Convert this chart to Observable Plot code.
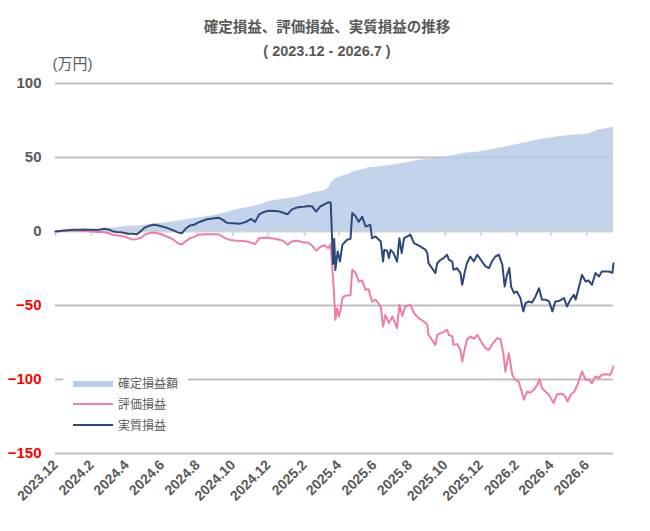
<!DOCTYPE html>
<html><head><meta charset="utf-8">
<script src="https://cdn.jsdelivr.net/npm/d3@7"></script>
<script src="https://cdn.jsdelivr.net/npm/@observablehq/plot@0.6"></script>
<style>
body{margin:0;background:#fff;font-family:"Liberation Sans","Noto Sans CJK JP",sans-serif;}
#wrap{position:relative;width:650px;height:531px;overflow:hidden;background:#fff;}
#head{position:relative;height:54px;}
.t{position:absolute;left:0;width:654px;text-align:center;color:#595959;font-weight:bold;font-size:14.5px;line-height:20px;white-space:nowrap;}
#legend{position:absolute;left:63px;top:370px;width:125px;height:64px;background:#fff;}
.sw{position:absolute;left:10px;width:40px;}
.lt{position:absolute;left:55px;font-size:12px;line-height:14px;color:#595959;white-space:nowrap;font-family:"Noto Sans CJK JP",sans-serif;}
svg{display:block;}
</style>
</head><body>
<div id="wrap">
  <div id="head">
    <div class="t" style="top:17px">確定損益、評価損益、実質損益の推移</div>
    <div class="t" style="top:41px">( 2023.12 - 2026.7 )</div>
  </div>
  <div id="chart"></div>
  <div id="legend"></div>
</div>
<script>
const startDate = "2023-12-01";   // day 0
const stepDays = 7;               // weekly samples for the early part / realized
const seriesNames = ["確定損益額", "評価損益", "実質損益"];
const seriesColors = ["#bccde9", "#f07da5", "#2c487d"];

// 確定損益額 (realized, 万円), weekly from day 0
const realized = [
 0,0,0,0.1,0.2,0.3,0.4,0.5,0.6,0.8,
 1.0,1.3,1.6,2.0,2.4,2.6,2.8,3.2,3.5,3.8,
 3.8,3.9,4.3,4.8,5.2,5.5,5.6,5.8,6.2,6.6,
 7.0,7.5,8.0,8.5,8.8,9.2,9.5,10.0,10.3,10.8,
 11.5,12.2,12.8,13.6,14.4,15.0,15.6,16.0,16.5,17.2,
 17.8,18.8,20.0,20.6,21.0,21.5,22.0,22.3,22.6,23.0,
 23.8,24.5,25.0,25.8,26.5,27.0,27.5,29.3,34.0,36.0,
 37,38,38.5,40,40.8,41.5,42.3,43,43.3,43.5,
 44,44.3,44.6,45,45.5,46,46.5,47,47.5,48,
 48.3,48.6,48.8,49,49.5,50,50.5,51,51.5,52,
 52.5,53,53.2,53.5,53.8,54.2,54.7,55.2,55.7,56.2,
 56.8,57.4,58,58.6,59.2,59.8,60.3,61,61.6,62.2,
 62.6,63,63.3,63.8,64.2,64.5,64.7,65,65.2,65.4,
 65.5,66,67,68.4,69,69.5,70,70.5];

// 評価損益 (unrealized, 万円): weekly until day 469, then by day offset
const unrealizedWeekly = [
 0,0.2,0.3,0.5,0.5,0.6,0.5,0.4,0.1,0,
 -0.3,-0.2,-0.5,-1.0,-2.2,-2.6,-2.9,-3.5,-4.6,-5.5,
 -5.0,-4.2,-2.0,-1.2,-0.7,-1.2,-2.0,-3.0,-4.2,-5.6,
 -7.9,-8.8,-6.5,-4.6,-3.8,-2.2,-2.0,-1.8,-1.8,-1.9,
 -2.0,-3.5,-5.0,-5.8,-6.1,-6.3,-6.4,-6.8,-7.5,-8.5,
 -4.5,-4.2,-4.1,-4.5,-5.0,-5.6,-6.5,-9.0,-6.8,-6.3,
 -6.6,-7.5,-7.5,-9.5,-13.0,-10.5,-9.3,-11.3];
const unrealizedLateDays = [
 473,476,478,481,484,487,490,493,498,507,510,516,521,527,533,538,544,550,559,563,
 567,573,579,587,591,596,601,610,616,624,633,639,641,647,653,656,662,667,673,676,
 682,684,690,696,699,703,707,713,719,725,733,739,745,750,759,765,770,773,779,785,
 790,796,802,805,811,816,822,828,832,836,842,848,856,862,871,876,880,886,892,898,
 905,911,916,922,928,934,939,945,954,959];
const unrealizedLate = [
 -8.5,-25.9,-37.2,-59.7,-51.8,-57.4,-52.9,-45,-43.4,-43,-25.9,-28.1,-33.8,-33,-39.4,-39,-47.3,-46.1,-50.7,-64.2,
 -56.3,-61.9,-57.4,-65.3,-49.5,-57,-50.7,-49.5,-55.2,-58.5,-60.8,-63,-69.8,-73.2,-76.6,-69.8,-68.7,-68,-66.4,-70,
 -70.9,-76.6,-76,-79.9,-87.8,-80,-73.2,-70.9,-72.5,-69.8,-75.4,-78.8,-79.9,-76.5,-72,-73,-83.3,-94.6,-82.2,-96.8,
 -100.2,-101.4,-109.2,-113.7,-108.1,-109,-107,-103.6,-99.7,-105.8,-108.1,-110.3,-115.9,-110,-109.7,-111.5,-114.9,-110,-108.1,-102.4,
 -94.6,-100.2,-100,-102.4,-98,-99,-96.8,-96.5,-96.8,-91.2];

// 実質損益 (net, 万円): weekly until day 469, then by day offset
const netWeekly = [
 0,0.3,0.6,0.9,1.1,1.2,1.1,1.3,1.2,1.1,
 1.0,1.3,1.8,1.4,0.2,-0.3,-0.5,-1.0,-1.5,-1.6,
 -1.8,0.3,2.8,3.8,4.5,4.2,3.6,2.8,1.8,0.7,
 -0.6,-1.2,2.0,4.0,4.5,6.0,7.1,8.1,8.6,9.0,
 9.3,8.0,6.0,5.5,5.6,5.3,5.8,6.8,8.5,6.5,
 11.5,13.0,13.8,14.0,13.8,13.5,12.5,11.7,14.8,16.0,
 16.5,16.8,17.2,17.0,13.5,16.9,18.3,19.7];
const netLateDays = [
 473,477,479,481,485,489,493,501,507,510,516,521,527,533,541,544,550,559,563,565,
 570,573,576,581,587,591,595,599,604,610,616,622,627,636,639,641,647,653,656,662,
 667,673,676,682,684,690,696,699,703,707,713,719,725,733,739,745,750,756,762,768,
 772,776,780,783,788,793,799,804,808,813,819,825,831,836,842,848,854,859,865,874,
 879,885,891,894,899,905,911,916,922,928,934,939,945,951,957,959];
const netLate = [
 19.5,-22,-5,-26,-13.5,-20.3,-9,-5.6,-5,12.5,10.1,6.5,10,3.4,4.5,-4.5,-3.4,-6.8,-20.3,-12.4,
 -13,-18,-12.4,-14.6,-20.3,-4.5,-14.6,-4.5,-3.4,-2.2,-7.9,-9,-10.1,-12.4,-14.6,-21.4,-24.7,-28.1,-21.4,-19.1,
 -18,-15.7,-19,-20.3,-25.9,-24.7,-28.1,-36,-28.1,-21.4,-16.9,-20.3,-15.7,-20.3,-23.6,-24.7,-20.3,-16.9,-15.7,-22.5,
 -37.2,-29.3,-24.7,-37.2,-41.6,-40.5,-45,-54,-48.4,-47.3,-48,-43.9,-38.3,-46,-46.1,-47,-54,-47.3,-47,-45,
 -50.7,-46,-42.8,-46,-38.3,-29.3,-33.8,-33,-36,-28.1,-30.4,-27,-27,-27,-28,-21.4];

// axis ticks
const xTickLabels = ["2023.12","2024.2","2024.4","2024.6","2024.8","2024.10","2024.12","2025.2","2025.4","2025.6","2025.8","2025.10","2025.12","2026.2","2026.4","2026.6"];
const yTicks = [100, 50, 0, -50, -100, -150];
const unitLabel = "(万円)";

const t0 = d3.utcParse("%Y-%m-%d")(startDate);
const day = n => d3.utcDay.offset(t0, n);
const realizedRows = realized.map((v, i) => ({date: day(stepDays * i), value: v}));
const seriesRows = (weekly, lateDays, late) =>
  weekly.map((v, i) => ({date: day(stepDays * i), value: v}))
    .concat(lateDays.map((d, i) => ({date: day(d), value: late[i]})));
const unrealizedRows = seriesRows(unrealizedWeekly, unrealizedLateDays, unrealizedLate);
const netRows = seriesRows(netWeekly, netLateDays, netLate);

const tickDates = xTickLabels.map(s => { const [y, m] = s.split(".").map(Number); return new Date(Date.UTC(y, m - 1, 1)); });
const labelOf = new Map(tickDates.map((d, i) => [+d, xTickLabels[i]]));
const grey = "#595959";
const font = '"Liberation Sans","Noto Sans CJK JP",sans-serif';

const chart = Plot.plot({
  width: 650, height: 477,
  marginTop: 29, marginBottom: 78, marginLeft: 55, marginRight: 37,
  style: {fontFamily: font, overflow: "visible", background: "white"},
  x: {type: "utc", domain: [realizedRows[0].date, realizedRows[realizedRows.length - 1].date], label: null},
  y: {domain: [-150, 100], label: null},
  marks: [
    Plot.ruleY(yTicks.filter(v => v !== 0), {stroke: "#bfbfbf", strokeWidth: 2}),
    Plot.ruleY([0], {stroke: "#d6d6d6", strokeWidth: 2}),
    Plot.ruleX(tickDates, {x: d => d, y1: 0, y2: 0, insetBottom: -5, stroke: "#d6d6d6", strokeWidth: 2}),
    Plot.areaY(realizedRows, {x: "date", y: "value", curve: "linear", fill: seriesColors[0], fillOpacity: 0.88}),
    Plot.lineY(unrealizedRows, {x: "date", y: "value", stroke: seriesColors[1], strokeWidth: 2}),
    Plot.lineY(netRows, {x: "date", y: "value", stroke: seriesColors[2], strokeWidth: 2}),
    Plot.axisY(yTicks.filter(v => v >= 0), {tickSize: 0, tickPadding: 14, fontSize: 15, fontWeight: "bold", fill: grey, label: null}),
    Plot.axisY(yTicks.filter(v => v < 0), {tickSize: 0, tickPadding: 14, fontSize: 15, fontWeight: "bold", fill: "#ff0000", label: null}),
    Plot.axisX(tickDates, {tickSize: 0, tickPadding: 9, tickRotate: -45, tickFormat: d => labelOf.get(+d), fontSize: 14, fontWeight: "bold", fill: grey, label: null}),
    Plot.text([unitLabel], {frameAnchor: "top-left", textAnchor: "start", dx: -3, dy: -25, fontSize: 15, fill: grey})
  ]
});
document.getElementById("chart").appendChild(chart);

// legend
const legend = document.getElementById("legend");
const centers = [12.5, 33.5, 54.5];
seriesNames.forEach((name, i) => {
  const sw = document.createElement("div");
  sw.className = "sw";
  if (i === 0) { sw.style.top = (centers[i] - 2) + "px"; sw.style.height = "6px"; sw.style.background = seriesColors[0]; }
  else { sw.style.top = (centers[i] - 1) + "px"; sw.style.height = "2px"; sw.style.background = seriesColors[i]; }
  legend.appendChild(sw);
  const tx = document.createElement("div");
  tx.className = "lt";
  tx.style.top = (centers[i] - 7) + "px";
  tx.textContent = name;
  legend.appendChild(tx);
});
</script>
</body></html>
